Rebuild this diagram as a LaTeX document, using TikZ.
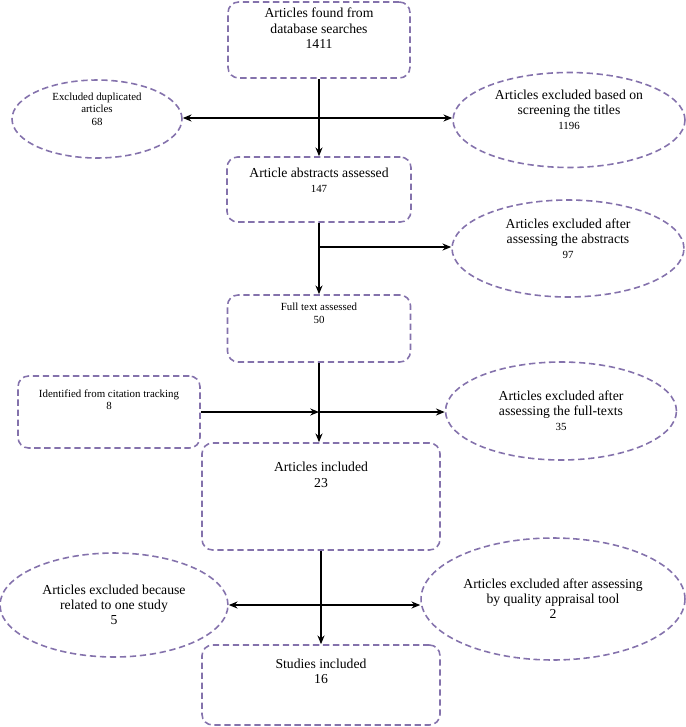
\documentclass[tikz,border=0pt]{standalone}
\usepackage{fontspec}
\setmainfont{Liberation Serif}
\usetikzlibrary{arrows.meta,shapes.geometric}

\definecolor{lila}{HTML}{8472AC}
\newcommand{\smallnum}[1]{{\fontsize{6.2}{7.2}\selectfont #1}}

\begin{document}
\begin{tikzpicture}[
    x=0.02cm, y=-0.02cm,
    >=Stealth,
    stage/.style={rectangle, rounded corners=6pt, draw=lila, line width=0.9pt, dash pattern=on 3.6pt off 2.1pt},
    excl/.style={ellipse, draw=lila, line width=0.9pt, dash pattern=on 3.6pt off 2.1pt, inner sep=0pt},
    big/.style={font=\fontsize{7.8}{8.6}\selectfont, align=center},
    small/.style={font=\fontsize{6.2}{7.2}\selectfont, align=center},
    arrow/.style={-{Stealth[length=5pt, width=4pt]}, line width=0.7pt, black}
]
\useasboundingbox (0,0) rectangle (686,727);

% Etapas principais
\node[stage, minimum width=3.64cm, minimum height=1.52cm,
      label={[big, anchor=north, yshift=-0.5pt]north:{Articles found from\\database searches\\1411}}] (found) at (319,40) {};
\node[stage, minimum width=3.68cm, minimum height=1.30cm,
      label={[big, anchor=north, yshift=-3pt]north:{Article abstracts assessed\\\smallnum{147}}}] (abstracts) at (319,189.5) {};
\node[stage, minimum width=3.66cm, minimum height=1.34cm,
      label={[small, anchor=north, yshift=-1.5pt]north:{Full text assessed\\50}}] (fulltext) at (319,328.5) {};
\node[stage, minimum width=3.64cm, minimum height=1.44cm,
      label={[small, anchor=north, yshift=-4.5pt]north:{Identified from citation tracking\\8}}] (citation) at (109,412) {};
\node[stage, minimum width=4.76cm, minimum height=2.14cm,
      label={[big, anchor=north, yshift=-8pt]north:{Articles included\\23}}] (included) at (321,496.5) {};
\node[stage, minimum width=4.76cm, minimum height=1.60cm,
      label={[big, anchor=north, yshift=-5pt]north:{Studies included\\16}}] (studies) at (321,685) {};

% Exclusoes
\node[excl, small, minimum width=3.40cm, minimum height=1.56cm] (dup) at (97,119)
      {Excluded duplicated\\articles\\68\\[4pt]};
\node[excl, big, minimum width=4.64cm, minimum height=1.90cm] (titles) at (569,120)
      {Articles excluded based on\\screening the titles\\\smallnum{1196}\\[3pt]};
\node[excl, big, minimum width=4.64cm, minimum height=1.94cm] (absexcl) at (568,248.5)
      {Articles excluded after\\assessing the abstracts\\\smallnum{97}\\[3pt]};
\node[excl, big, minimum width=4.62cm, minimum height=1.96cm] (ftexcl) at (561,411)
      {Articles excluded after\\assessing the full-texts\\\smallnum{35}};
\node[excl, big, minimum width=4.56cm, minimum height=2.08cm] (related) at (114,605)
      {Articles excluded because\\related to one study\\5};
\node[excl, big, minimum width=5.28cm, minimum height=2.44cm] (quality) at (553,599)
      {Articles excluded after assessing\\by quality appraisal tool\\2};

% Pontos de ramificacao
\coordinate (j1) at (319,118);
\coordinate (j2) at (319,247);
\coordinate (j3) at (319,412);
\coordinate (j4) at (321,605);

% Fluxo principal
\draw[arrow] (found) -- (abstracts);
\draw[arrow] (abstracts) -- (fulltext);
\draw[arrow] (fulltext) -- (fulltext |- included.north);
\draw[arrow] (included) -- (studies);

% Ramos laterais
\draw[arrow] (j1) -- (j1 -| dup.east);
\draw[arrow] (j1) -- (j1 -| titles.west);
\draw[arrow] (j2) -- (j2 -| absexcl.west);
\draw[arrow] (citation.east) -- (j3);
\draw[arrow] (j3) -- (j3 -| ftexcl.west);
\draw[arrow] (j4) -- (j4 -| related.east);
\draw[arrow] (j4) -- (j4 -| quality.west);

\end{tikzpicture}
\end{document}
